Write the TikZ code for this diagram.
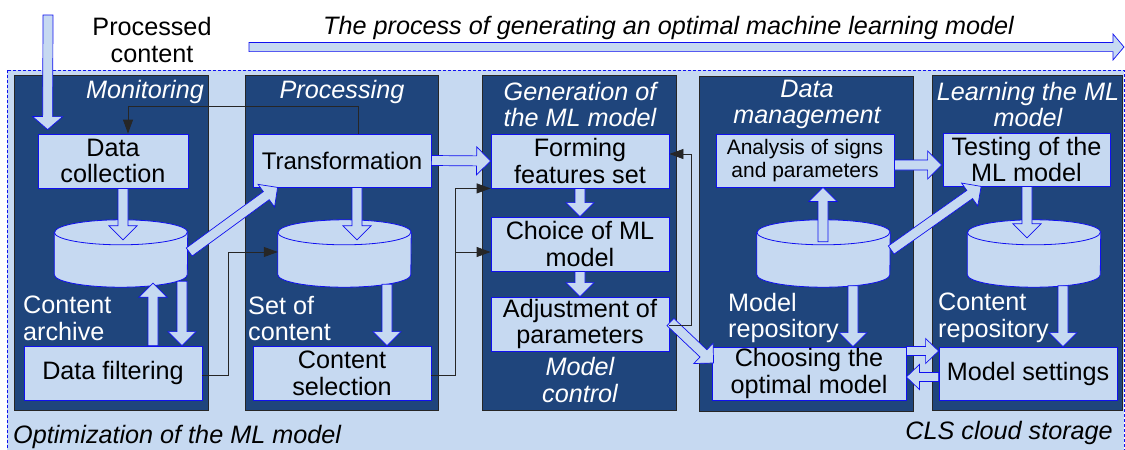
\documentclass[tikz,border=0pt]{standalone}
\usepackage{fontspec}
\setmainfont{Liberation Sans}
\usetikzlibrary{calc,arrows.meta}

\definecolor{panelblue}{HTML}{1F457C}
\definecolor{paleblue}{HTML}{C6D9F1}
\definecolor{edgeblue}{HTML}{1010F0}

\newcommand\bigfont{\fontsize{25.2}{26.7}\selectfont}
\newcommand\smallfont{\fontsize{21}{23}\selectfont}

% block arrow: shaft half width, head half width, head length, from, to
\newcommand\blockarrowdims[5]{%
  \coordinate (ba-s) at #4;
  \coordinate (ba-t) at #5;
  \coordinate (ba-h) at ($(ba-t)!#3!(ba-s)$);
  \path[blockarrow] ($(ba-s)!#1!90:(ba-t)$) -- ($(ba-h)!#1!90:(ba-t)$)
    -- ($(ba-h)!#2!90:(ba-t)$) -- (ba-t) -- ($(ba-h)!#2!-90:(ba-t)$)
    -- ($(ba-h)!#1!-90:(ba-t)$) -- ($(ba-s)!#1!-90:(ba-t)$) -- cycle;
}
\newcommand\blockarrow[2]{\blockarrowdims{5pt}{14pt}{14pt}{#1}{#2}}

% storage drum: name, centre x, centre y
\newcommand\drum[3]{%
  \node[minimum width=133pt, minimum height=67pt, inner sep=0pt] (#1) at (#2,#3) {};
  \path[drumstyle] ([yshift=-12.5pt]#1.north west) -- ([yshift=12.5pt]#1.south west)
    arc[start angle=180, end angle=360, x radius=66.5pt, y radius=12.5pt]
    -- ([yshift=-12.5pt]#1.north east)
    arc[start angle=0, end angle=180, x radius=66.5pt, y radius=12.5pt] -- cycle;
  \draw[drumstyle, fill=none] ([yshift=-12.5pt]#1.north west)
    arc[start angle=180, end angle=360, x radius=66.5pt, y radius=12.5pt];
}

\tikzset{
  panel/.style={draw=black!85, fill=panelblue, line width=0.8pt, inner sep=0pt},
  box/.style={draw=edgeblue, fill=paleblue, line width=0.8pt, align=center,
    font=\bigfont, inner sep=0pt},
  ptitle/.style={text=white, font=\itshape\bigfont, align=center, inner sep=0pt},
  plabel/.style={text=white, font=\bigfont, align=left, inner sep=0pt, anchor=west},
  drumstyle/.style={draw=edgeblue, fill=paleblue, line width=0.8pt},
  blockarrow/.style={draw=edgeblue, fill=paleblue, line width=0.7pt},
  conn/.style={draw=black!85, line width=0.8pt, -{Triangle[length=14pt,width=10pt]}},
}

\begin{document}
\begin{tikzpicture}[x=1pt, y=1pt]
\useasboundingbox (0,0) rectangle (1125,-450);
\fill[white] (0,0) rectangle (1125,-450);

% cloud storage area
\draw[edgeblue, fill=paleblue, line width=0.8pt, dash pattern=on 3pt off 2pt]
  (7,-70) rectangle (1124,-465);

% stage panels
\node[panel, minimum width=194pt, minimum height=335pt] (p1) at (111,-242.5) {};
\node[panel, minimum width=193pt, minimum height=335pt] (p2) at (341.5,-242.5) {};
\node[panel, minimum width=194pt, minimum height=335pt] (p3) at (579,-243) {};
\node[panel, minimum width=214pt, minimum height=335pt] (p4) at (806,-243.5) {};
\node[panel, minimum width=190pt, minimum height=335pt] (p5) at (1027,-242.5) {};

% stage titles
\node[ptitle, anchor=east] (t1) at (204,-92) {Monitoring};
\node[ptitle] (t2) at (342,-92) {Processing};
\node[ptitle] (t3) at (580,-104.5) {Generation of\\the ML model};
\node[ptitle] (t4) at (807,-104.5) {Data\\management};
\node[ptitle] (t5) at (1028,-104.5) {Learning the ML\\model};
\node[ptitle] (t6) at (580,-380) {Model\\control};

% storage drums
\drum{c1}{121}{-253.5}
\drum{c2}{344.5}{-253.5}
\drum{c3}{823.5}{-253.5}
\drum{c4}{1034}{-253.5}

\node[plabel] (l1) at (23,-318.5) {Content\\archive};
\node[plabel] (l2) at (248,-318.5) {Set of\\content};
\node[plabel] (l3) at (728,-318) {Model\\repository};
\node[plabel] (l4) at (938,-318) {Content\\repository};

% process boxes
\node[box, minimum width=150pt, minimum height=54pt] (dc) at (113,-161) {Data\\collection};
\node[box, minimum width=178pt, minimum height=53pt, font=\fontsize{24}{26}\selectfont] (tr) at (342,-160.5) {Transformation};
\node[box, minimum width=178pt, minimum height=54pt] (df) at (113,-373) {Data filtering};
\node[box, minimum width=178pt, minimum height=54pt] (cs) at (342,-373) {Content\\selection};
\node[box, minimum width=178pt, minimum height=54pt] (ff) at (580,-161) {Forming\\features set};
\node[box, minimum width=178pt, minimum height=54pt] (cm) at (580,-244) {Choice of ML\\model};
\node[box, minimum width=178pt, minimum height=54pt] (ap) at (580,-324) {Adjustment of\\parameters};
\node[box, minimum width=178pt, minimum height=53pt, font=\smallfont] (an) at (805,-160.5) {Analysis of signs\\and parameters};
\node[box, minimum width=167pt, minimum height=53pt] (te) at (1026.5,-159.5) {Testing of the\\ML model};
\node[box, minimum width=194pt, minimum height=53pt] (co) at (809,-373.5) {Choosing the\\optimal model};
\node[box, minimum width=178pt, minimum height=53pt] (ms) at (1028,-373.5) {Model settings};

% free texts
\node[font=\bigfont, align=center, inner sep=0pt] (pc) at (152,-40) {Processed\\content};
\node[font=\itshape\bigfont, inner sep=0pt] (flow) at (668.5,-28) {The process of generating an optimal machine learning model};
\node[font=\itshape\bigfont, inner sep=0pt, anchor=west] (opt) at (13,-437) {Optimization of the ML model};
\node[font=\itshape\bigfont, inner sep=0pt, anchor=east] (cls) at (1113,-433) {CLS cloud storage};

% incoming content and overall flow
\coordinate (pcstart) at (48,-15);
\blockarrowdims{5pt}{15pt}{13pt}{(pcstart)}{([shift={(10pt,4pt)}]dc.north west)}
\coordinate (flowstart) at (249,-47);
\coordinate (flowend) at (1124,-47);
\blockarrowdims{4.6pt}{13pt}{11pt}{(flowstart)}{(flowend)}

% block arrows between stages
\blockarrow{([xshift=10pt]dc.south)}{([shift={(2pt,-20pt)}]c1.north)}
\blockarrow{([shift={(1.5pt,1.5pt)}]c1.east)}{([xshift=25pt]tr.south west)}
\blockarrow{([xshift=40pt]df.north)}{([shift={(32pt,4pt)}]c1.south)}
\blockarrow{([shift={(61pt,6pt)}]c1.south)}{([xshift=69pt]df.north)}
\blockarrow{([xshift=15pt]tr.south)}{([shift={(12.5pt,-20pt)}]c2.north)}
\blockarrow{([shift={(42.5pt,3pt)}]c2.south)}{([xshift=45pt]cs.north)}
\blockarrow{(tr.east)}{(ff.west)}
\blockarrow{(ff.south)}{(cm.north)}
\blockarrow{(cm.south)}{(ap.north)}
\blockarrow{([shift={(1pt,2pt)}]ap.east)}{([shift={(2pt,10.5pt)}]co.west)}
\blockarrow{([shift={(-0.5pt,-22pt)}]c3.north)}{([xshift=18pt]an.south)}
\blockarrow{([shift={(1pt,3.5pt)}]c3.east)}{([xshift=38.5pt]te.south west)}
\blockarrow{([yshift=-4.5pt]an.east)}{([shift={(-1pt,-5.5pt)}]te.west)}
\blockarrow{([shift={(29.5pt,1.5pt)}]c3.south)}{([xshift=44pt]co.north)}
\blockarrow{([xshift=0.5pt]te.south)}{([shift={(-7pt,-18pt)}]c4.north)}
\blockarrow{([shift={(29pt,1.5pt)}]c4.south)}{([xshift=35pt]ms.north)}
\blockarrowdims{4.5pt}{12.5pt}{13pt}{([yshift=22.5pt]co.east)}{([yshift=22.5pt]ms.west)}
\blockarrowdims{4.5pt}{12.5pt}{13pt}{([yshift=-3.5pt]ms.west)}{([yshift=-3.5pt]co.east)}

% control links
\draw[conn] ([xshift=16pt]tr.north) -- ++(0,27pt) -| ([xshift=15pt]dc.north);
\draw[conn] ([yshift=-2pt]df.east) -- ++(26pt,0) |- ([yshift=1.5pt]c2.west);
\draw[conn] ([yshift=-2pt]cs.east) -- ++(24pt,0) |- (ff.south west);
\draw[conn] ([xshift=24pt,yshift=-2pt]cs.east) |- ([yshift=-8pt]cm.west);
\draw[conn] ([yshift=-1pt]ap.east) -- ++(22pt,0) |- ([yshift=7pt]ff.east);
\end{tikzpicture}
\end{document}
